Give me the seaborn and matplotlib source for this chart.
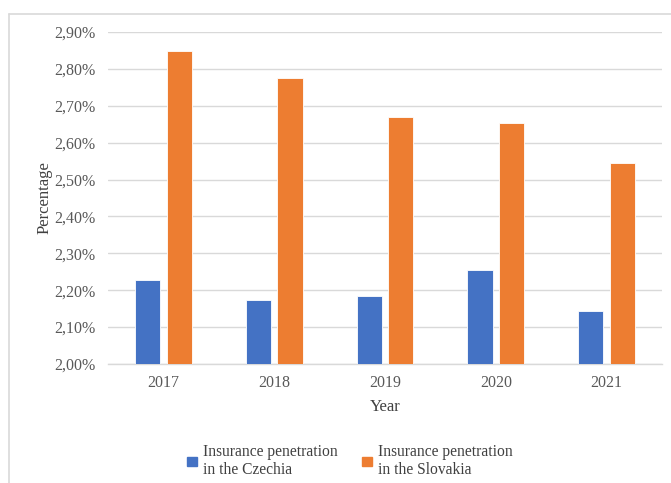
import matplotlib
matplotlib.use("Agg")
import matplotlib.pyplot as plt
import matplotlib.patches as mpatches
from matplotlib.ticker import FuncFormatter, MultipleLocator
import seaborn as sns
import pandas as pd

years = ["2017", "2018", "2019", "2020", "2021"]
czechia = [2.227, 2.174, 2.185, 2.255, 2.144]
slovakia = [2.848, 2.775, 2.669, 2.652, 2.546]
series_names = ["Insurance penetration\nin the Czechia",
                "Insurance penetration\nin the Slovakia"]
colors = ["#4472C4", "#ED7D31"]

df = pd.DataFrame({
    "Year": years * 2,
    "Value": czechia + slovakia,
    "Series": [series_names[0]] * len(years) + [series_names[1]] * len(years),
})

sns.set_theme(style="white")
plt.rcParams["font.family"] = ["Liberation Serif", "DejaVu Serif"]

fig = plt.figure(figsize=(6.71, 4.83), dpi=100)
ax = fig.add_axes([108 / 671, 1 - 364 / 483, (662 - 108) / 671, (364 - 32) / 483])

sns.barplot(data=df, x="Year", y="Value", hue="Series", palette=colors,
            saturation=1, width=0.57, gap=0.2, ax=ax, edgecolor="white",
            linewidth=0.6, legend=False, zorder=3)

ax.set_ylim(2.0, 2.9)
ax.yaxis.set_major_locator(MultipleLocator(0.1))
ax.yaxis.set_major_formatter(
    FuncFormatter(lambda v, _: f"{v:.2f}%".replace(".", ",")))
ax.grid(axis="y", color="#D9D9D9", linewidth=1.0, zorder=0)
for s in ["top", "right", "left"]:
    ax.spines[s].set_visible(False)
ax.spines["bottom"].set_color("#D9D9D9")
ax.spines["bottom"].set_linewidth(1.0)
ax.tick_params(axis="y", length=0, labelsize=11.5, colors="#595959", pad=9)
ax.tick_params(axis="x", length=0, labelsize=11.5, colors="#595959", pad=8)

ax.set_xlabel("Year", fontsize=12, color="#404040", labelpad=6)
ax.set_ylabel("Percentage", fontsize=12, color="#404040", labelpad=1)

handles = [mpatches.Patch(color=c, label=n) for c, n in zip(colors, series_names)]
fig.legend(handles=handles, loc="center", bbox_to_anchor=(350 / 671, 1 - 461 / 483),
           ncol=2, frameon=False, fontsize=11.2, handlelength=0.6, handleheight=0.6,
           handletextpad=0.4, columnspacing=1.6, labelcolor="#404040",
           labelspacing=0.1)

# outer chart border
fig.add_artist(plt.Line2D([8.5 / 671, 8.5 / 671], [0, 1 - 13.5 / 483],
                          transform=fig.transFigure, color="#D9D9D9", linewidth=1.2))
fig.add_artist(plt.Line2D([8.5 / 671, 1.0], [1 - 13.5 / 483, 1 - 13.5 / 483],
                          transform=fig.transFigure, color="#D9D9D9", linewidth=1.2))

fig.savefig("out.png", dpi=100)
